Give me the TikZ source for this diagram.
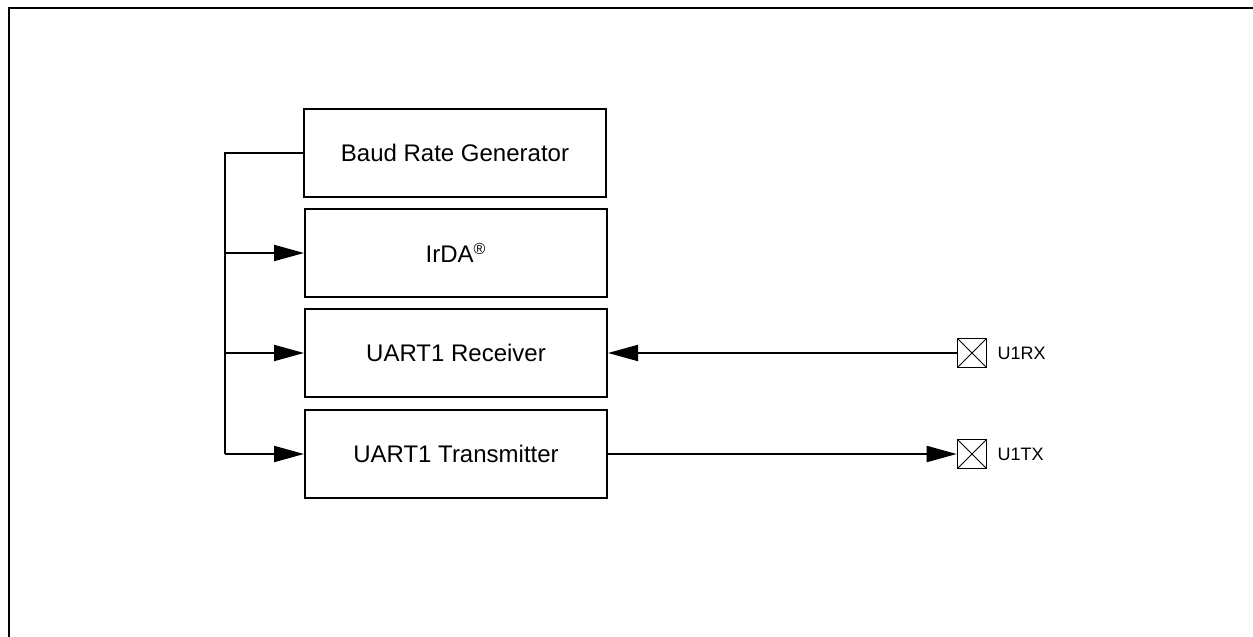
\documentclass[tikz,border=0pt]{standalone}
\usepackage{fontspec}
\setmainfont{Liberation Sans}
\usetikzlibrary{calc, positioning, arrows.meta}

\begin{document}
\begin{tikzpicture}[
    x=0.5pt, y=-0.5pt,
    bloco/.style={draw, line width=1pt, minimum width=151pt, minimum height=44pt,
        inner sep=0pt, font=\fontsize{12}{14}\selectfont},
    pino/.style={draw, line width=0.8pt, minimum size=14.5pt, inner sep=0pt,
        path picture={
            \draw[line width=0.5pt] (path picture bounding box.north west) -- (path picture bounding box.south east);
            \draw[line width=0.5pt] (path picture bounding box.south west) -- (path picture bounding box.north east);
        }},
    rotulo/.style={inner sep=0pt, font=\fontsize{9}{11}\selectfont},
    seta/.style={line width=1pt, -{Triangle[length=15pt, width=8pt]}}
]

    % 1. Area of the page and outer frame
    \useasboundingbox (0,0) rectangle (1253,637);
    \draw[line width=1.1pt] (9,637) -- (9,8) -- (1253,8);

    % 2. Blocks of the module
    \node[bloco] (brg) at (455,153) {Baud Rate Generator};
    \node[bloco] (irda) at (456,253) {IrDA\textsuperscript{®}};
    \node[bloco] (rx) at (456,353) {UART1 Receiver};
    \node[bloco] (tx) at (456,454) {UART1 Transmitter};

    % 3. Pins and their names
    \node[pino] (pinRX) at (972,353) {};
    \node[pino] (pinTX) at (972,454) {};
    \node[rotulo, right=5pt of pinRX] (lblRX) {U1RX};
    \node[rotulo, right=5pt of pinTX] (lblTX) {U1TX};

    % 4. Clock bus from the baud rate generator
    \coordinate (busTop) at (225,153);
    \coordinate (busBot) at (225,454);
    \draw[line width=1pt] (brg.west) -- (busTop) -- (busBot);
    \draw[seta] (busTop |- irda.west) -- (irda.west);
    \draw[seta] (busTop |- rx.west) -- (rx.west);
    \draw[seta] (busBot) -- (tx.west);

    % 5. Data lines to the pins
    \draw[seta] (pinRX.west) -- (rx.east);
    \draw[seta] (tx.east) -- (pinTX.west);

\end{tikzpicture}
\end{document}
